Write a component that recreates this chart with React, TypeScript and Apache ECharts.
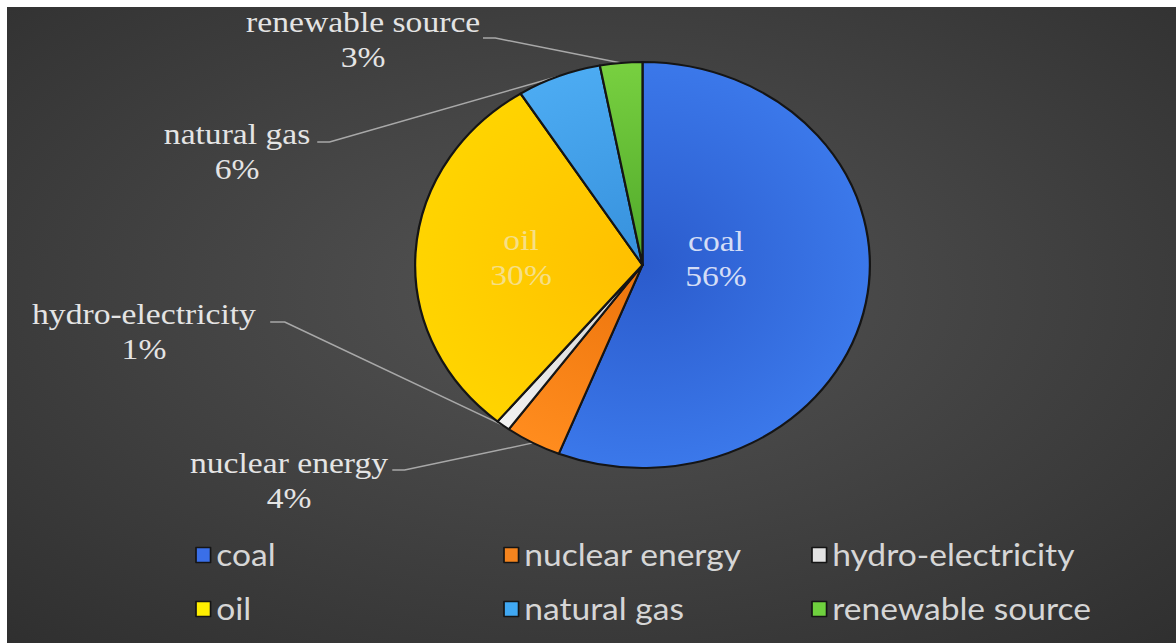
import React, { useEffect, useRef } from "react";
import * as echarts from "echarts";

const categories = ["coal", "nuclear energy", "hydro-electricity", "oil", "natural gas", "renewable source"];
const shares = [56, 4, 1, 30, 6, 3];
const insideLabels = ["coal", "oil"];

const sliceColors: Record<string, [string, string]> = {
  coal: ["#2b5bcc", "#3b78ea"],
  "nuclear energy": ["#ec740c", "#ff8c1e"],
  "hydro-electricity": ["#cfcfcf", "#f2f2f2"],
  oil: ["#ffbf00", "#ffd400"],
  "natural gas": ["#3690dc", "#4cabf2"],
  "renewable source": ["#4fa82a", "#78d040"],
};
const legendColors: Record<string, string> = {
  coal: "#3a6fe8",
  "nuclear energy": "#f5841e",
  "hydro-electricity": "#e2e2e2",
  oil: "#ffee00",
  "natural gas": "#40a8f2",
  "renewable source": "#6fd13e",
};

const SX = 1.12;
const W = 1044;
const H = 636;
const CX = 567.4;
const CY = 258;
const R = 203;

// label layout in chart coordinates: [centerX, centerY, lineEndX, lineEndY, kneeX]
const labelPlaces: Record<string, number[]> = {
  coal: [633, 252],
  oil: [459, 251],
  "renewable source": [318, 32.5, 425, 31, 436],
  "natural gas": [205.4, 145, 277, 135, 288],
  "hydro-electricity": [122.3, 325, 235, 315, 248],
  "nuclear energy": [251.8, 474, 344, 463, 355],
};

export default function App() {
  const ref = useRef<HTMLDivElement>(null);
  useEffect(() => {
    if (!ref.current) return;
    const chart = echarts.init(ref.current, null, { renderer: "svg" });
    const grad = (c: [string, string]) => ({
      type: "radial",
      x: CX,
      y: CY,
      r: R,
      global: true,
      colorStops: [
        { offset: 0, color: c[0] },
        { offset: 1, color: c[1] },
      ],
    });
    const data = categories.map((name, i) => {
      const inside = insideLabels.includes(name);
      return {
        name,
        value: shares[i],
        itemStyle: { color: grad(sliceColors[name]) },
        label: inside
          ? {
              position: "inside",
              color: name === "coal" ? "#d4ddf6" : "#f6df86",
            }
          : { position: "outside", color: "#e4e4e4" },
        labelLine: { show: !inside },
      };
    });
    const legendFor = (names: string[], left: number) => ({
      orient: "vertical",
      left,
      top: 528,
      itemWidth: 13,
      itemHeight: 15,
      itemGap: 24,
      icon: "rect",
      textStyle: { color: "#d6d6d6", fontFamily: "Lato", fontSize: 30, lineHeight: 30 },
      data: names.map((n) => ({
        name: n,
        itemStyle: { color: legendColors[n], borderColor: "#151515", borderWidth: 1.5 },
      })),
    });
    chart.setOption({
      animation: false,
      backgroundColor: {
        type: "radial",
        x: 0.5,
        y: 0.45,
        r: 0.75,
        colorStops: [
          { offset: 0, color: "#545454" },
          { offset: 1, color: "#2f2f2f" },
        ],
      },
      legend: [
        legendFor([categories[0], categories[3]], 163),
        legendFor([categories[1], categories[4]], 438),
        legendFor([categories[2], categories[5]], 713),
      ],
      series: [
        {
          type: "pie",
          center: [CX, CY],
          radius: R,
          startAngle: 90,
          clockwise: true,
          avoidLabelOverlap: false,
          percentPrecision: 0,
          itemStyle: { borderColor: "#151515", borderWidth: 2 },
          label: {
            formatter: "{b}\n{d}%",
            fontFamily: "Liberation Serif",
            fontSize: 30,
            lineHeight: 35,
            align: "center",
          },
          labelLine: { lineStyle: { color: "#a8a8a8", width: 1.5 } },
          labelLayout: (params: any) => {
            const name = categories[params.dataIndex];
            const p = labelPlaces[name];
            const out: any = { x: p[0], y: p[1], align: "center", verticalAlign: "middle" };
            if (p.length > 2 && params.labelLinePoints) {
              const start = params.labelLinePoints[0];
              out.labelLinePoints = [start, [p[4], p[3]], [p[2], p[3]]];
            }
            return out;
          },
          data,
        },
      ],
    });
    return () => chart.dispose();
  }, []);
  return (
    <div style={{ position: "absolute", left: 0, top: 0, width: 1176, height: 643, background: "#ffffff", overflow: "hidden" }}>
      <div
        ref={ref}
        style={{
          position: "absolute",
          left: 7,
          top: 7,
          width: W,
          height: H,
          transform: `scaleX(${SX})`,
          transformOrigin: "0 0",
        }}
      />
    </div>
  );
}
